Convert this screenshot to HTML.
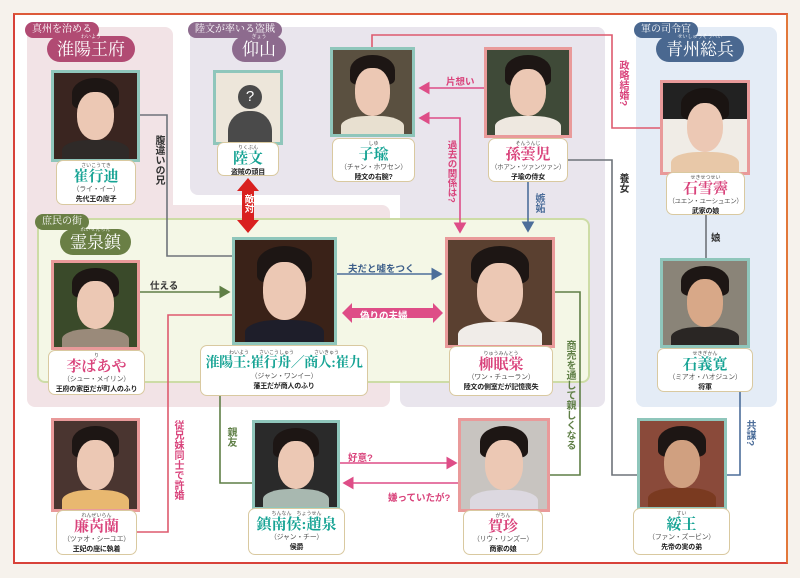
<!DOCTYPE html>
<html><head><meta charset="utf-8"><style>
*{margin:0;padding:0;box-sizing:border-box}
body{width:800px;height:578px;background:#f6f2ec;position:relative;overflow:hidden;font-family:"Liberation Sans","Noto Sans CJK JP",sans-serif}
.a{position:absolute}
.frame{left:13px;top:13px;width:775px;height:551px;border:2px solid #d8423a;border-right-color:#e2783a;border-top-color:#dd5a3a;background:#fff}
.reg{position:absolute;border-radius:8px}
.pill{position:absolute;color:#fff;border-radius:10px;text-align:center;font-family:"Liberation Serif","Noto Serif CJK JP",serif;white-space:nowrap}
.sm{font-size:10px;height:16px;line-height:16px;padding:0 7px}
.bg{font-size:17px;height:26px;line-height:28px;border-radius:13px;padding:0 10px}
.bg i{position:absolute;font-style:normal;font-size:5px;top:-1px;left:0;right:0;line-height:6px}
.ph{position:absolute;border:3px solid #8fc6bb;overflow:hidden}
.ph.p{border-color:#e99a9a}
.face{position:absolute;left:50%;top:22%;width:44%;height:56%;margin-left:-22%;border-radius:45% 45% 48% 48%;background:#ecc8b4}
.hair{position:absolute;left:50%;top:6%;width:56%;height:36%;margin-left:-28%;border-radius:50% 50% 20% 20%;background:#1d1614}
.body{position:absolute;left:10%;right:10%;bottom:-8%;height:30%;border-radius:40% 40% 0 0}
.card{position:absolute;background:#fff;border:1.5px solid #d9c9a0;border-radius:7px;text-align:center;line-height:1;white-space:nowrap}
.card .r{font-size:5px;color:#555;height:6px;line-height:6px;margin-top:2px}
.card .n{font-family:"Liberation Serif","Noto Serif CJK JP",serif;font-size:15px;font-weight:bold;color:#16a394;line-height:16px}
.card.pk .n{color:#d9437b}
.card .y{font-size:7px;line-height:8px;color:#555;margin-top:1px;letter-spacing:-0.3px}
.card .d{font-size:7px;line-height:8px;color:#222;font-weight:bold;margin-top:2px;letter-spacing:-0.2px}
.v{position:absolute;writing-mode:vertical-rl;font-size:10px;font-weight:bold;letter-spacing:0;line-height:1}
.lb{position:absolute;font-size:9.5px;font-weight:bold;white-space:nowrap}
</style></head><body>
<div class="a frame"></div>
<div class="reg" style="left:27px;top:27px;width:146px;height:190px;background:#f2e3e6"></div>
<div class="reg" style="left:27px;top:205px;width:363px;height:202px;background:#f2e3e6"></div>
<div class="reg" style="left:190px;top:27px;width:415px;height:168px;background:#e9e5ed"></div>
<div class="reg" style="left:400px;top:27px;width:205px;height:380px;background:#e9e5ed"></div>
<div class="reg" style="left:636px;top:27px;width:141px;height:380px;background:#e4ecf6"></div>
<div class="reg" style="left:37px;top:218px;width:553px;height:165px;background:#f4f7e6;border:2px solid #cddca6"></div>

<svg class="a" style="left:0;top:0" width="800" height="578">
<defs>
<marker id="mp" markerWidth="8" markerHeight="8" refX="6" refY="4" orient="auto"><path d="M0,0L7,4L0,8z" fill="#de4d87"/></marker>
<marker id="mb" markerWidth="8" markerHeight="8" refX="6" refY="4" orient="auto"><path d="M0,0L7,4L0,8z" fill="#4d6e9a"/></marker>
<marker id="mg" markerWidth="8" markerHeight="8" refX="6" refY="4" orient="auto"><path d="M0,0L7,4L0,8z" fill="#5f7f46"/></marker>
</defs>
<g fill="none" stroke-width="1.6">
<path d="M140,115H167V256H232" stroke="#6e737a"/>
<path d="M372,47V35H612V128H660" stroke="#de5a6e"/>
<path d="M484,88H420" stroke="#de4d87" marker-end="url(#mp)"/>
<path d="M458,118H420" stroke="#de4d87" marker-end="url(#mp)"/>
<path d="M458,118H460V232" stroke="#de4d87" marker-end="url(#mp)"/>
<path d="M528,182V231" stroke="#4d6e9a" marker-end="url(#mb)"/>
<path d="M568,160H612V475H637" stroke="#6e737a"/>
<path d="M706,215V258" stroke="#6e737a"/>
<path d="M740,392V475H727" stroke="#4d6e9a"/>
<path d="M337,274H441" stroke="#4d6e9a" marker-end="url(#mb)"/>
<path d="M140,292H229" stroke="#5f7f46" marker-end="url(#mg)"/>
<path d="M137,532H168V315H232" stroke="#de5a6e"/>
<path d="M220,396V483H252" stroke="#5f7f46"/>
<path d="M340,463H456" stroke="#de4d87" marker-end="url(#mp)"/>
<path d="M458,483H344" stroke="#de4d87" marker-end="url(#mp)"/>
<path d="M555,292H580V475H550" stroke="#5f7f46"/>
</g>
<path d="M248,178L259,191H254V220H259L248,233L237,220H242V191H237Z" fill="#d9201f"/>
<path d="M342,313L352,303V308H433V303L443,313L433,323V318H352V323Z" fill="#de4d87"/>
</svg>
<div class="v" style="left:243px;top:194px;color:#fff;font-size:9.5px">敵対</div>
<div class="lb" style="left:360px;top:308px;color:#fff;font-size:9.5px">偽りの夫婦</div>

<div class="v" style="left:153px;top:135px;color:#333">腹違いの兄</div>
<div class="lb" style="left:446px;top:74px;color:#d9437b">片想い</div>
<div class="v" style="left:446px;top:140px;color:#d9437b;font-size:9.5px">過去の関係は?</div>
<div class="v" style="left:533px;top:193px;color:#4d6e9a">嫉妬</div>
<div class="v" style="left:617px;top:173px;color:#333">養女</div>
<div class="v" style="left:617px;top:60px;color:#d9437b">政略結婚?</div>
<div class="lb" style="left:711px;top:230px;color:#333">娘</div>
<div class="v" style="left:744px;top:420px;color:#4d6e9a">共謀?</div>
<div class="lb" style="left:348px;top:261px;color:#3d5f8a">夫だと嘘をつく</div>
<div class="lb" style="left:150px;top:278px;color:#333">仕える</div>
<div class="v" style="left:172px;top:420px;color:#d9437b">従兄妹同士で許婚</div>
<div class="v" style="left:225px;top:427px;color:#5f7f46">親友</div>
<div class="lb" style="left:348px;top:450px;color:#d9437b">好意?</div>
<div class="lb" style="left:388px;top:490px;color:#d9437b">嫌っていたが?</div>
<div class="v" style="left:564px;top:340px;color:#5f7f46">商売を通して親しくなる</div>

<div class="pill sm" style="left:25px;top:22px;background:#b14b73">真州を治める</div>
<div class="pill bg" style="left:47px;top:36px;background:#b14b73"><i>わいよう</i>淮陽王府</div>
<div class="pill sm" style="left:188px;top:22px;background:#8d6b8e">陸文が率いる盗賊</div>
<div class="pill bg" style="left:232px;top:36px;background:#8d6b8e"><i>ぎょう</i>仰山</div>
<div class="pill sm" style="left:634px;top:22px;background:#4a6890">軍の司令官</div>
<div class="pill bg" style="left:656px;top:36px;background:#4a6890"><i>せいしゅうそうへい</i>青州総兵</div>
<div class="pill sm" style="left:35px;top:214px;background:#6a7f45">庶民の街</div>
<div class="pill bg" style="left:60px;top:229px;background:#6a7f45"><i>れいせんちん</i>霊泉鎮</div>

<div class="ph" style="left:51px;top:70px;width:89px;height:92px;background:#3a2520"><div class="hair"></div><div class="face"></div><div class="body" style="background:#2f2a28"></div></div>
<div class="ph" style="left:213px;top:70px;width:70px;height:75px;background:#ede6da"><div class="a" style="left:22px;top:12px;width:24px;height:24px;border-radius:50%;background:#4a4a4a;color:#fff;text-align:center;font-size:15px;line-height:24px">?</div><div class="a" style="left:12px;top:38px;width:44px;height:40px;border-radius:20px 20px 0 0;background:#4a4a4a"></div></div>
<div class="ph" style="left:330px;top:47px;width:85px;height:90px;background:#5a5040"><div class="hair"></div><div class="face"></div><div class="body" style="background:#e8e0d0"></div></div>
<div class="ph p" style="left:484px;top:47px;width:88px;height:91px;background:#3f4a38"><div class="hair"></div><div class="face"></div><div class="body" style="background:#eee8e0"></div></div>
<div class="ph p" style="left:660px;top:80px;width:90px;height:95px;background:#f0ece6"><div class="a" style="left:0;right:0;top:0;height:40%;background:#222"></div><div class="hair" style="background:#1a1412"></div><div class="face"></div><div class="body" style="background:#e8c8a8"></div></div>
<div class="ph p" style="left:51px;top:260px;width:89px;height:90px;background:#3a4a2a"><div class="hair"></div><div class="face"></div><div class="body" style="background:#9a8a7a"></div></div>
<div class="ph" style="left:232px;top:237px;width:105px;height:108px;background:#3a2218"><div class="hair"></div><div class="face"></div><div class="body" style="background:#1e1e2a"></div></div>
<div class="ph p" style="left:445px;top:237px;width:110px;height:111px;background:#5a4030"><div class="hair"></div><div class="face"></div><div class="body" style="background:#f0ece8"></div></div>
<div class="ph" style="left:660px;top:258px;width:90px;height:90px;background:#8a8478"><div class="hair"></div><div class="face" style="background:#d8a888"></div><div class="body" style="background:#2a2624"></div></div>
<div class="ph p" style="left:51px;top:418px;width:89px;height:94px;background:#4a3530"><div class="hair"></div><div class="face"></div><div class="body" style="background:#e8b870"></div></div>
<div class="ph" style="left:252px;top:420px;width:88px;height:90px;background:#2a2a2a"><div class="hair"></div><div class="face"></div><div class="body" style="background:#a8b8b0"></div></div>
<div class="ph p" style="left:458px;top:418px;width:92px;height:94px;background:#c8c4c0"><div class="hair"></div><div class="face"></div><div class="body" style="background:#dcd8e0"></div></div>
<div class="ph" style="left:637px;top:418px;width:90px;height:92px;background:#8a4a3a"><div class="hair"></div><div class="face" style="background:#d0a080"></div><div class="body" style="background:#7a3a20"></div></div>

<div class="card" style="left:56px;top:160px;width:80px;height:45px"><div class="r">さいこうてき</div><div class="n">崔行迪</div><div class="y">（ライ・イー）</div><div class="d">先代王の庶子</div></div>
<div class="card" style="left:217px;top:142px;width:62px;height:34px"><div class="r">りくぶん</div><div class="n">陸文</div><div class="d">盗賊の頭目</div></div>
<div class="card" style="left:332px;top:138px;width:83px;height:44px"><div class="r">しゆ</div><div class="n">子瑜</div><div class="y">（チャン・ホワセン）</div><div class="d">陸文の右腕?</div></div>
<div class="card pk" style="left:488px;top:138px;width:80px;height:44px"><div class="r">そんうんじ</div><div class="n">孫蕓児</div><div class="y" style="font-size:6.5px">（ホアン・ツァンツァン）</div><div class="d">子瑜の侍女</div></div>
<div class="card pk" style="left:666px;top:172px;width:79px;height:43px"><div class="r">せきせつせい</div><div class="n">石雪霽</div><div class="y" style="font-size:6.5px">（ユエン・ユーシュエン）</div><div class="d">武家の娘</div></div>
<div class="card pk" style="left:48px;top:350px;width:97px;height:45px"><div class="r">り</div><div class="n">李ばあや</div><div class="y">（シュー・メイリン）</div><div class="d">王府の家臣だが町人のふり</div></div>
<div class="card" style="left:200px;top:345px;width:168px;height:51px"><div class="r" style="margin-top:4px">わいよう　　さいこうしゅう　　　　さいきゅう</div><div class="n" style="font-size:14px;letter-spacing:-0.5px">淮陽王:崔行舟／商人:崔九</div><div class="y">（ジャン・ワンイー）</div><div class="d">藩王だが商人のふり</div></div>
<div class="card pk" style="left:449px;top:346px;width:104px;height:50px"><div class="r" style="margin-top:4px">りゅうみんとう</div><div class="n">柳眠棠</div><div class="y">（ワン・チューラン）</div><div class="d">陸文の側室だが記憶喪失</div></div>
<div class="card" style="left:657px;top:348px;width:96px;height:44px"><div class="r">せきぎかん</div><div class="n">石義寛</div><div class="y">（ミアオ・ハオジュン）</div><div class="d">将軍</div></div>
<div class="card pk" style="left:56px;top:510px;width:81px;height:45px"><div class="r">れんぜいらん</div><div class="n">廉芮蘭</div><div class="y">（ツァオ・シーユエ）</div><div class="d">王妃の座に執着</div></div>
<div class="card" style="left:248px;top:508px;width:97px;height:47px"><div class="r">ちんなん　ちょうせん</div><div class="n">鎮南侯:趙泉</div><div class="y">（ジャン・チー）</div><div class="d">侯爵</div></div>
<div class="card pk" style="left:463px;top:510px;width:80px;height:45px"><div class="r">がちん</div><div class="n">賀珍</div><div class="y">（リウ・リンズー）</div><div class="d">商家の娘</div></div>
<div class="card" style="left:633px;top:508px;width:97px;height:47px"><div class="r">すい</div><div class="n">綏王</div><div class="y">（ファン・ズービン）</div><div class="d">先帝の実の弟</div></div>
</body></html>
